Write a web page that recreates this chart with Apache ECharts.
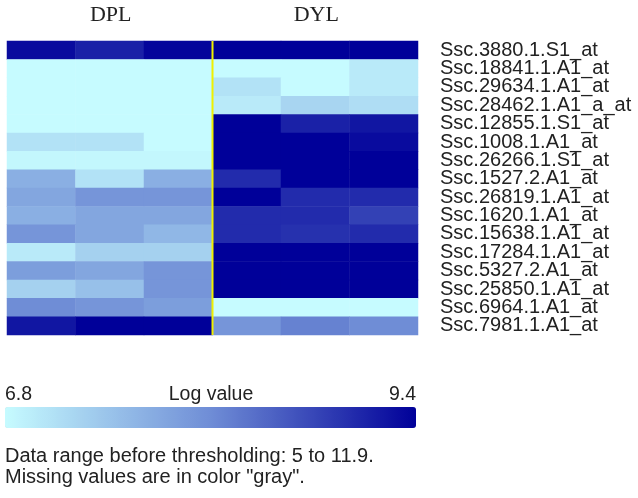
<!DOCTYPE html>
<html>
<head>
<meta charset="utf-8">
<script src="https://cdn.jsdelivr.net/npm/echarts@6/dist/echarts.min.js"></script>
<style>
html,body{margin:0;padding:0;background:#fff;}
#chart{width:638px;height:498px;}
</style>
</head>
<body>
<div id="chart"></div>
<script>
var columns = ['DPL1','DPL2','DPL3','DYL1','DYL2','DYL3'];
var groups = ['DPL','DYL'];
var rows = ['Ssc.3880.1.S1_at','Ssc.18841.1.A1_at','Ssc.29634.1.A1_at','Ssc.28462.1.A1_a_at',
  'Ssc.12855.1.S1_at','Ssc.1008.1.A1_at','Ssc.26266.1.S1_at','Ssc.1527.2.A1_at',
  'Ssc.26819.1.A1_at','Ssc.1620.1.A1_at','Ssc.15638.1.A1_at','Ssc.17284.1.A1_at',
  'Ssc.5327.2.A1_at','Ssc.25850.1.A1_at','Ssc.6964.1.A1_at','Ssc.7981.1.A1_at'];
var values = [
  [9.3, 9.1, 9.35, 9.4, 9.4, 9.4],
  [6.8, 6.8, 6.8, 6.8, 6.8, 7.0],
  [6.8, 6.8, 6.8, 7.1, 6.8, 7.0],
  [6.8, 6.8, 6.8, 7.0, 7.25, 7.15],
  [6.8, 6.8, 6.8, 9.4, 9.1, 9.2],
  [7.1, 7.1, 6.8, 9.4, 9.4, 9.3],
  [6.85, 6.85, 6.85, 9.4, 9.4, 9.4],
  [7.7, 7.1, 7.7, 9.0, 9.4, 9.4],
  [7.8, 8.0, 8.0, 9.4, 9.0, 9.0],
  [7.7, 7.8, 7.8, 9.0, 9.0, 8.8],
  [8.0, 7.8, 7.6, 9.0, 8.95, 9.0],
  [7.0, 7.3, 7.3, 9.4, 9.4, 9.4],
  [7.9, 7.8, 8.0, 9.4, 9.4, 9.4],
  [7.3, 7.5, 8.0, 9.4, 9.4, 9.4],
  [8.1, 8.0, 7.9, 6.8, 6.8, 6.8],
  [9.2, 9.4, 9.4, 8.0, 8.2, 8.1]
];
var scaleMin = 6.8, scaleMax = 9.4;
var legendTitle = 'Log value';
var notes = ['Data range before thresholding: 5 to 11.9.', 'Missing values are in color "gray".'];

var data = [];
for (var r = 0; r < rows.length; r++) {
  for (var c = 0; c < columns.length; c++) {
    data.push([c, r, values[r][c]]);
  }
}

var chart = echarts.init(document.getElementById('chart'));
var sans = "'Liberation Sans', Arial, sans-serif";
var serif = "'Liberation Serif', 'Times New Roman', serif";
chart.setOption({
  animation: false,
  grid: {left: 7, right: 220, top: 41, bottom: 163},
  xAxis: {type: 'category', data: columns, show: false},
  yAxis: {
    type: 'category', data: rows, inverse: true, position: 'right',
    axisLine: {show: false}, axisTick: {show: false}, splitLine: {show: false},
    axisLabel: {interval: 0, margin: 22, fontSize: 20, fontFamily: sans, color: '#222'}
  },
  visualMap: {
    type: 'continuous', min: scaleMin, max: scaleMax, orient: 'horizontal',
    left: -10, top: 392, itemWidth: 21, itemHeight: 411, calculable: false, hoverLink: false,
    inRange: {color: ['#c6fbff', '#6f8dd6', '#000099']}
  },
  series: [{
    type: 'heatmap', data: data,
    itemStyle: {borderWidth: 0}
  }]
});

var xMid = (chart.convertToPixel({xAxisIndex: 0}, 2) + chart.convertToPixel({xAxisIndex: 0}, 3)) / 2;
var xG1 = chart.convertToPixel({xAxisIndex: 0}, 1);
var xG2 = chart.convertToPixel({xAxisIndex: 0}, 4);
var yTop = chart.convertToPixel({yAxisIndex: 0}, 0) - 9.2;
var yBot = chart.convertToPixel({yAxisIndex: 0}, rows.length - 1) + 9.2;
chart.setOption({
  graphic: [
    {type: 'line', shape: {x1: xMid, y1: yTop, x2: xMid, y2: yBot}, style: {stroke: '#f0f000', lineWidth: 2}, z: 10},
    {type: 'text', x: xG1 + 1, y: 15, style: {text: groups[0], font: '22px ' + serif, fill: '#222', align: 'center', verticalAlign: 'middle'}},
    {type: 'text', x: xG2 + 1, y: 15, style: {text: groups[1], font: '22px ' + serif, fill: '#222', align: 'center', verticalAlign: 'middle'}},
    {type: 'text', x: 5, y: 395, style: {text: String(scaleMin), font: '19.5px ' + sans, fill: '#222', align: 'left', verticalAlign: 'middle'}},
    {type: 'text', x: 211, y: 395, style: {text: legendTitle, font: '19.5px ' + sans, fill: '#222', align: 'center', verticalAlign: 'middle'}},
    {type: 'text', x: 416, y: 395, style: {text: String(scaleMax), font: '19.5px ' + sans, fill: '#222', align: 'right', verticalAlign: 'middle'}},
    {type: 'text', x: 5, y: 456, style: {text: notes[0], font: '20px ' + sans, fill: '#222', align: 'left', verticalAlign: 'middle'}},
    {type: 'text', x: 5, y: 477, style: {text: notes[1], font: '20px ' + sans, fill: '#222', align: 'left', verticalAlign: 'middle'}}
  ]
});
</script>
</body>
</html>
